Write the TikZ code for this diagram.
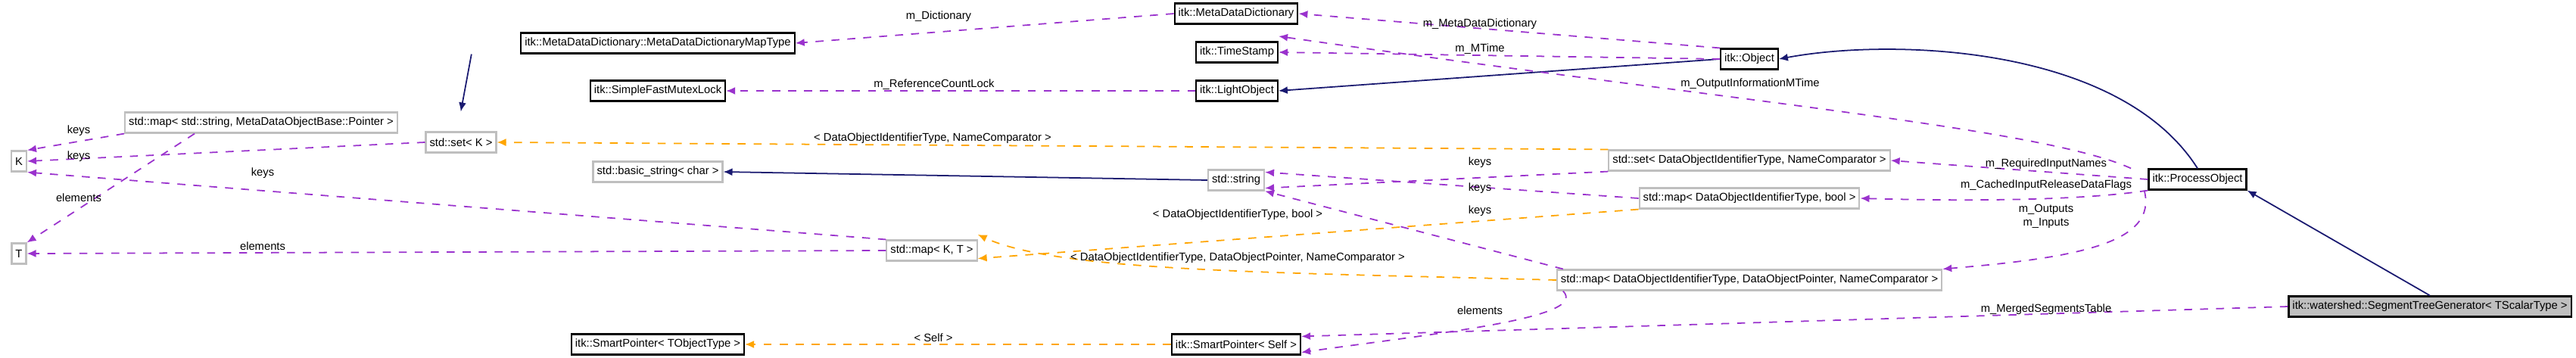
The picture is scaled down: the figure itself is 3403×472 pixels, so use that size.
\documentclass[tikz,border=0pt]{standalone}
\usepackage{fontspec}
\setmainfont{Liberation Sans}
\usetikzlibrary{arrows.meta}
\definecolor{relcol}{HTML}{9A32CD}
\definecolor{tplcol}{HTML}{FFA500}
\definecolor{inhcol}{HTML}{191970}
\tikzset{
  cls/.style={draw=black, line width=0.6pt, fill=white, inner xsep=0.05cm, inner ysep=0pt, minimum height=0.27cm},
  ext/.style={cls, draw=black!25},
  cur/.style={cls, fill=black!25},
  lbl/.style={inner sep=0pt, align=center},
  rel/.style={draw=relcol, dashed, line width=0.5pt, -{Latex[length=1.2mm,width=1mm]}},
  tpl/.style={rel, draw=tplcol},
  inh/.style={draw=inhcol, line width=0.5pt, -{Latex[length=1.2mm,width=1mm]}},
}
\begin{document}
\begin{tikzpicture}[x=0.01cm, y=-0.01cm, font=\fontsize{4.2pt}{5pt}\selectfont]
\useasboundingbox (0,0) rectangle (3403,472);
% classes
\node[cls] (mdmap) at (869,57) {itk::MetaDataDictionary::MetaDataDictionaryMapType};
\node[cls] (mdd) at (1633,18) {itk::MetaDataDictionary};
\node[cls] (ts) at (1634,69) {itk::TimeStamp};
\node[cls] (mutex) at (869,120) {itk::SimpleFastMutexLock};
\node[cls] (light) at (1634,120) {itk::LightObject};
\node[cls] (obj) at (2311,78) {itk::Object};
\node[ext] (strmap) at (345,162) {std::map< std::string, MetaDataObjectBase::Pointer >};
\node[ext] (setK) at (609,188) {std::set< K >};
\node[ext] (K) at (25,213) {K};
\node[ext] (bstr) at (869,227) {std::basic\_string< char >};
\node[ext] (str) at (1633,238) {std::string};
\node[ext] (setDO) at (2311,212) {std::set< DataObjectIdentifierType, NameComparator >};
\node[ext] (mapDOb) at (2311,262) {std::map< DataObjectIdentifierType, bool >};
\node[cls] (po) at (2903,237) {itk::ProcessObject};
\node[ext] (T) at (25,335) {T};
\node[ext] (mapKT) at (1231,331) {std::map< K, T >};
\node[ext] (mapDOp) at (2311,370) {std::map< DataObjectIdentifierType, DataObjectPointer, NameComparator >};
\node[cls] (spT) at (869,455) {itk::SmartPointer< TObjectType >};
\node[cls] (spS) at (1633,455) {itk::SmartPointer< Self >};
\node[cur] (stg) at (3210,405) {itk::watershed::SegmentTreeGenerator< TScalarType >};
% inheritance
\draw[inh] ([xshift=-70]mdmap.south) -- ([xshift=75]strmap.north);
\draw[inh] (obj.west) -- (light.east);
\draw[inh] (str.west) -- (bstr.east);
\draw[inh] (po.north) .. controls (2800,60) and (2500,50) .. (obj.east);
\draw[inh] (stg.north) -- (po.south east);
% members
\draw[rel] (mdd.west) -- (mdmap.east);
\node[lbl] (lDict) at (1240,22) {m\_Dictionary};
\draw[rel] (obj.north west) -- (mdd.east);
\node[lbl] (lMDD) at (1955,32) {m\_MetaDataDictionary};
\draw[rel] (obj.west) -- (ts.east);
\node[lbl] (lMT) at (1955,65) {m\_MTime};
\draw[rel] (light.west) -- (mutex.east);
\node[lbl] (lRCL) at (1234,112) {m\_ReferenceCountLock};
\draw[rel] (strmap.south west) -- (K.north east);
\node[lbl] (lk1) at (104,173) {keys};
\draw[rel] ([xshift=-25]strmap.south) -- (T.north east);
\node[lbl] (le1) at (104,261) {elements};
\draw[rel] (setK.west) -- (K.east);
\node[lbl] (lk2) at (104,207) {keys};
\draw[rel] (mapKT.north west) -- (K.south east);
\node[lbl] (lk3) at (347,229) {keys};
\draw[rel] (mapKT.west) -- (T.east);
\node[lbl] (le2) at (347,325) {elements};
\draw[rel] (setDO.south west) -- ([yshift=-3]str.east);
\node[lbl] (lk4) at (1955,215) {keys};
\draw[rel] (mapDOb.west) -- ([yshift=3]str.east);
\node[lbl] (lk5) at (1955,249) {keys};
\draw[rel] ([xshift=-70]mapDOp.north) -- (str.south east);
\node[lbl] (lk6) at (1955,279) {keys};
\draw[rel] ([xshift=-70]mapDOp.south) .. controls (2100,420) and (1900,440) .. ([yshift=-3]spS.east);
\node[lbl] (le3) at (1955,410) {elements};
\draw[rel] (stg.west) -- ([yshift=3]spS.east);
\node[lbl] (lMST) at (2703,409) {m\_MergedSegmentsTable};
\draw[rel] ([xshift=-25]po.north) .. controls (2700,170) and (2300,135) .. ([yshift=6]ts.east);
\node[lbl] (lOIM) at (2312,111) {m\_OutputInformationMTime};
\draw[rel] (po.west) -- (setDO.east);
\node[lbl] (lRIN) at (2703,217) {m\_RequiredInputNames};
\draw[rel] (po.south west) .. controls (2750,265) and (2600,266) .. (mapDOb.east);
\node[lbl] (lCIR) at (2703,245) {m\_CachedInputReleaseDataFlags};
\draw[rel] ([xshift=-20]po.south) .. controls (2850,320) and (2750,340) .. (mapDOp.north east);
\node[lbl] (lOI) at (2703,286) {m\_Outputs\\m\_Inputs};
% templates
\draw[tpl] (setDO.north west) -- (setK.east);
\node[lbl] (lt1) at (1232,183) {< DataObjectIdentifierType, NameComparator >};
\draw[tpl] (mapDOb.south west) -- ([yshift=-3]mapKT.east);
\node[lbl] (lt2) at (1635,284) {< DataObjectIdentifierType, bool >};
\draw[tpl] (mapDOp.west) .. controls (1700,360) and (1400,360) .. ([yshift=6]mapKT.east);
\node[lbl] (lt3) at (1635,341) {< DataObjectIdentifierType, DataObjectPointer, NameComparator >};
\draw[tpl] (spS.west) -- (spT.east);
\node[lbl] (lt4) at (1233,446) {< Self >};
\end{tikzpicture}
\end{document}
